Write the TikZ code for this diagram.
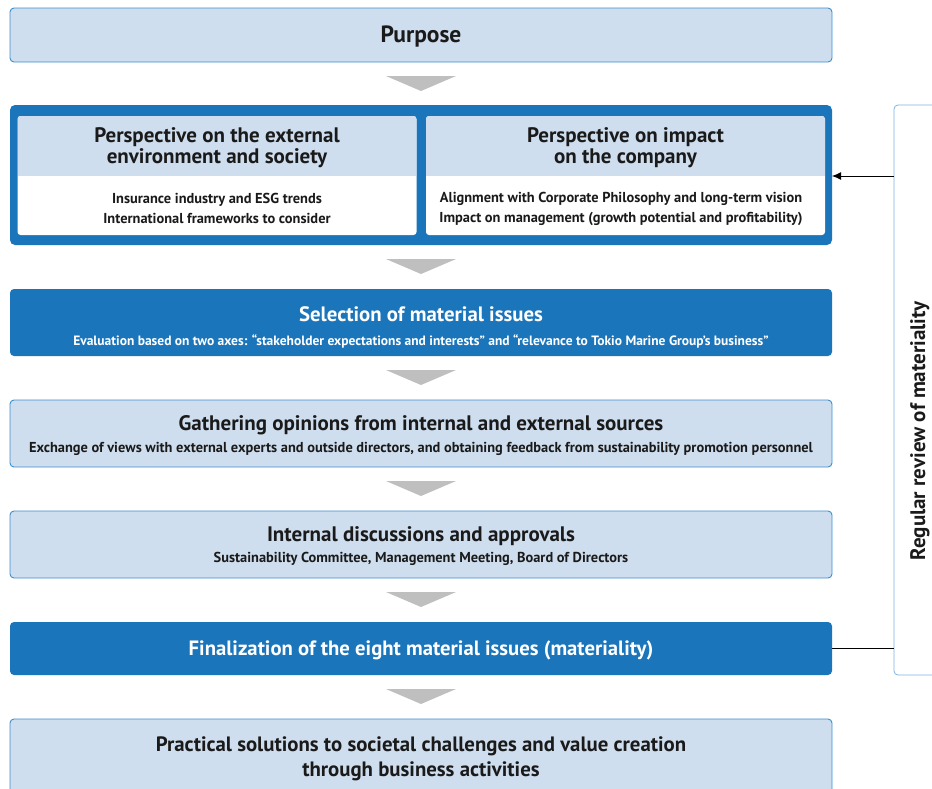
\documentclass[tikz,border=0pt]{standalone}
\usepackage{fontspec}
\setmainfont{PT Sans}
\usetikzlibrary{calc,arrows.meta}
\definecolor{dblue}{HTML}{1B75BB}
\definecolor{lblue}{HTML}{CFDEEE}
\definecolor{bblue}{HTML}{3D8ECC}
\definecolor{agray}{HTML}{BFBFBF}
\definecolor{rblue}{HTML}{7FB2DE}
\definecolor{txt}{HTML}{1A1A1A}
\tikzset{
  lightbox/.style={draw=bblue, fill=lblue, rounded corners=4pt, line width=0.9pt, minimum width=822pt, inner sep=0pt, outer sep=0pt},
  darkbox/.style={fill=dblue, rounded corners=4pt, minimum width=822pt, inner sep=0pt, outer sep=0pt},
  panel/.style={fill=white, rounded corners=3pt, minimum width=399pt, minimum height=119pt, inner sep=0pt, outer sep=0pt},
  ttl/.style={font=\bfseries\fontsize{21}{21.5}\selectfont, text=txt, align=center, inner sep=0pt},
  wttl/.style={ttl, text=white},
  sub/.style={font=\bfseries\fontsize{14.4}{20}\selectfont, text=txt, align=center, inner sep=0pt},
  wsub/.style={sub, text=white},
  garrow/.style={fill=agray},
}
\newcommand{\downarr}[2]{\fill[garrow] ($(#1.south)+(-35,14)$) -- ($(#1.south)+(35,14)$) -- ($(#1.south)+(0,29)$) -- cycle;}
\begin{document}
\begin{tikzpicture}[x=1pt,y=-1pt]
\useasboundingbox (0,0) rectangle (932,788);
\clip (0,0) rectangle (932,788);

% Purpose
\node[lightbox, minimum height=54pt] (purpose) at (421,35) {};
\node[ttl, font=\bfseries\fontsize{23.5}{24}\selectfont] (purposet) at (421,37) {Purpose};

% frame with two panels
\node[darkbox, rounded corners=5pt, minimum height=140pt] (frame) at (421,175) {};
\node[panel] (left) at (217,175.5) {};
\node[panel] (right) at (625.5,175.5) {};
\begin{scope}
  \clip[rounded corners=3pt] (left.north west) rectangle (left.south east);
  \fill[lblue] (left.north west) rectangle ($(left.north east)+(0,60)$);
\end{scope}
\begin{scope}
  \clip[rounded corners=3pt] (right.north west) rectangle (right.south east);
  \fill[lblue] (right.north west) rectangle ($(right.north east)+(0,60)$);
\end{scope}
\node[ttl] (lefth) at (217,147.5) {Perspective on the external\\environment and society};
\node[ttl] (righth) at (625.5,147.5) {Perspective on impact\\on the company};
\node[sub] (leftb) at (217,208.5) {Insurance industry and ESG trends\\International frameworks to consider};
\node[sub] (rightb) at (621,208.5) {Alignment with Corporate Philosophy and long-term vision\\Impact on management (growth potential and profitability)};

% Selection
\node[darkbox, minimum height=67pt] (select) at (421,322.5) {};
\node[wttl, font=\bfseries\fontsize{20.8}{21}\selectfont] (selectt) at (421,314.5) {Selection of material issues};
\node[wsub, font=\bfseries\fontsize{13.5}{14}\selectfont] (selects) at (421,341) {Evaluation based on two axes: “stakeholder expectations and interests” and “relevance to Tokio Marine Group’s business”};

% Gathering
\node[lightbox, minimum height=67pt] (gather) at (421,433.5) {};
\node[ttl] (gathert) at (421,425) {Gathering opinions from internal and external sources};
\node[sub] (gathers) at (421,449) {Exchange of views with external experts and outside directors, and obtaining feedback from sustainability promotion personnel};

% Internal
\node[lightbox, minimum height=67pt] (internal) at (421,544.5) {};
\node[ttl] (internalt) at (421,536) {Internal discussions and approvals};
\node[sub] (internals) at (421,559) {Sustainability Committee, Management Meeting, Board of Directors};

% Finalization
\node[darkbox, minimum height=53pt] (final) at (421,648.5) {};
\node[wttl, font=\bfseries\fontsize{20.7}{21}\selectfont] (finalt) at (421,650.5) {Finalization of the eight material issues (materiality)};

% Practical
\node[lightbox, minimum height=74pt] (practical) at (421,756) {};
\node[ttl, font=\bfseries\fontsize{20.8}{25}\selectfont] (practicalt) at (421,759) {Practical solutions to societal challenges and value creation\\through business activities};

% gray arrows
\downarr{purpose}{frame}
\downarr{frame}{select}
\downarr{select}{gather}
\downarr{gather}{internal}
\downarr{internal}{final}
\downarr{final}{practical}

% review box
\node[draw=rblue, line width=0.8pt, rounded corners=4pt, minimum width=50pt, minimum height=570pt, inner sep=0pt, outer sep=0pt] (review) at (919,390) {};
\node[ttl, font=\bfseries\fontsize{21}{22}\selectfont, rotate=90] (reviewt) at (920,431) {Regular review of materiality};

\draw[line width=0.9pt, -{Latex[length=9pt,width=8pt]}] (review.west |- frame.east) ++(0,1) -- ($(frame.east)+(0,1)$);
\draw[line width=0.9pt] (final.east) -- (review.west |- final.east);
\end{tikzpicture}
\end{document}
